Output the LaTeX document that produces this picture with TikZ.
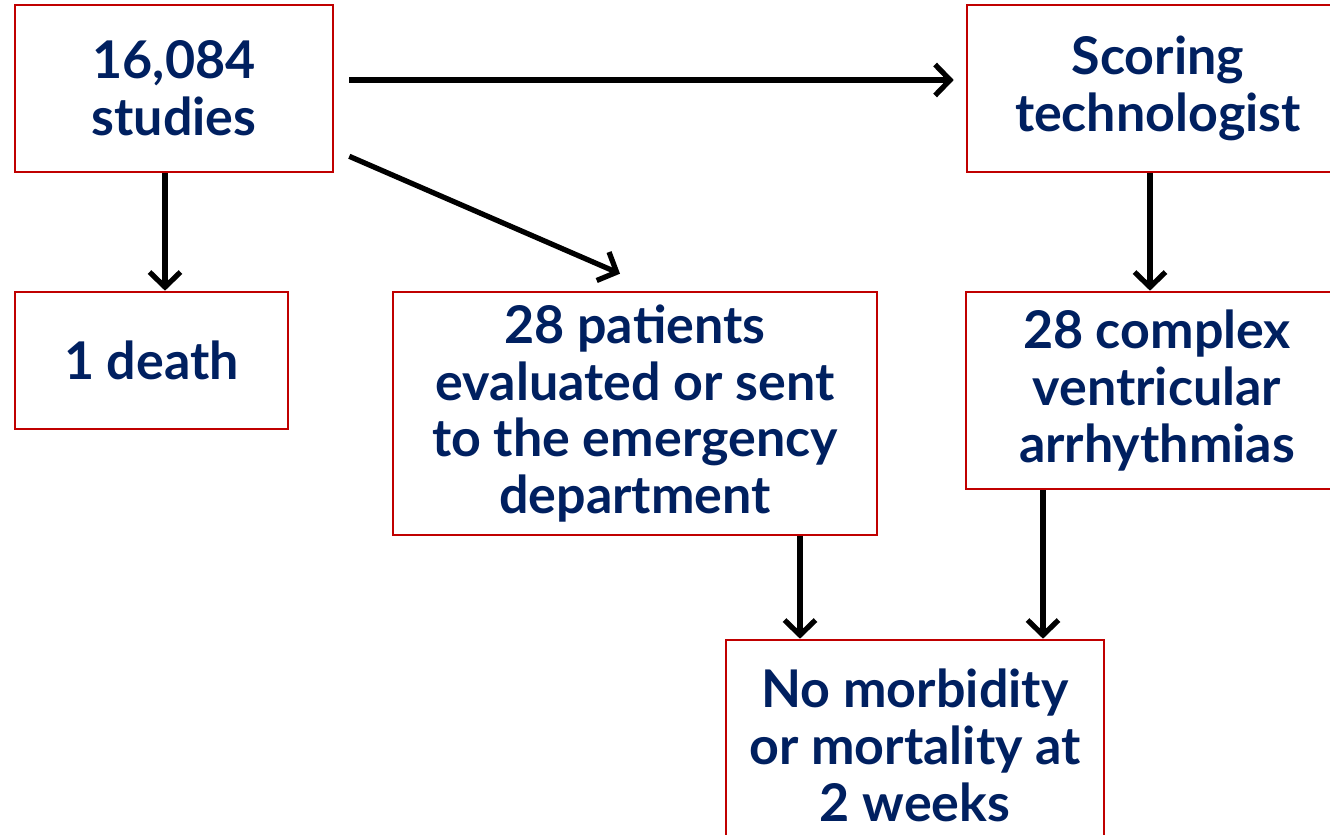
\documentclass[tikz,border=0pt]{standalone}
\usepackage{fontspec}
\setmainfont{Lato}
\usepackage{tikz}
\usetikzlibrary{arrows.meta, positioning, calc}
\definecolor{boxred}{HTML}{C00000}
\definecolor{navy}{HTML}{002060}

\begin{document}
\begin{tikzpicture}[x=0.02cm, y=-0.02cm,
    box/.style={draw=boxred, line width=1.5pt, fill=white, align=center, text=navy,
        font=\fontsize{29.6}{32.4}\selectfont\bfseries, inner sep=0pt},
    arr/.style={line width=3pt, -{Straight Barb[length=0.3cm, width=0.62cm]}}]
\useasboundingbox (0,0) rectangle (1330,835);
\clip (0,0) rectangle (1330,835);

% Top row
\node[box, minimum width=6.36cm, minimum height=3.34cm] (studies) at (174,88.5) {16,084\\studies};
\node[box, minimum width=7.64cm, minimum height=3.34cm] (scoring) at (1158,88.5) {Scoring\\technologist};

% Middle row
\node[box, minimum width=5.46cm, minimum height=2.74cm] (death) at (151.5,360.5) {1 death};
\node[box, minimum width=9.68cm, minimum height=4.86cm] (patients) at (635,413.5) {28 patients\\evaluated or sent\\to the emergency\\department};
\node[box, minimum width=7.64cm, minimum height=3.94cm] (arrhythmia) at (1157,390.5) {28 complex\\ventricular\\arrhythmias};

% Bottom
\node[box, minimum width=7.56cm, minimum height=4.2cm] (outcome) at (915,745) {No morbidity\\or mortality at\\2 weeks};

% Arrow start points
\coordinate (s1) at ($(studies.south)+(-9,0)$);
\coordinate (s2) at ($(scoring.south)+(-8,0)$);
\coordinate (s3) at ($(patients.south)+(165,0)$);
\coordinate (s4) at ($(arrhythmia.south)+(-114,0)$);

% Arrows
\draw[arr] ($(studies.east)+(15,-8.5)$) -- ($(scoring.west)+(-12,-8.5)$);
\draw[arr] ($(studies.south east)+(15,-17)$) -- ($(patients.north)+(-15,-17)$);
\draw[arr] (s1) -- (s1 |- death.north);
\draw[arr] (s2) -- (s2 |- arrhythmia.north);
\draw[arr] (s3) -- (s3 |- outcome.north);
\draw[arr] (s4) -- (s4 |- outcome.north);
\end{tikzpicture}
\end{document}
